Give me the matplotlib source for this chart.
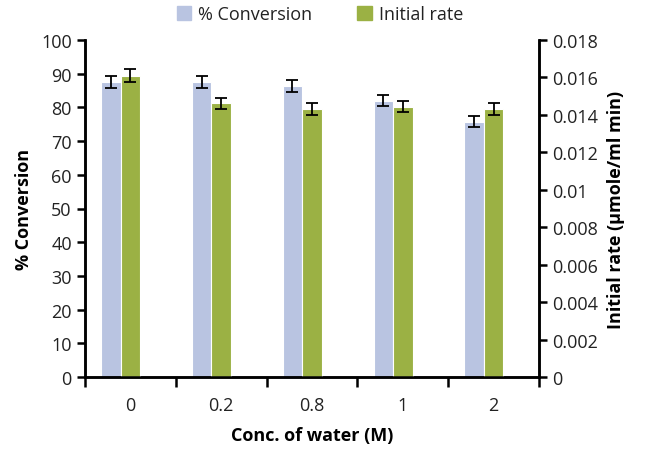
import matplotlib.pyplot as plt
import matplotlib.patches as mpatches
import numpy as np

plt.rcParams['font.family'] = ['Open Sans', 'DejaVu Sans']

categories = ["0", "0.2", "0.8", "1", "2"]
conversion = [87.6, 87.6, 86.3, 82.0, 75.8]
conversion_err = [1.8, 1.8, 1.8, 1.7, 1.5]
rate = [0.0161, 0.01462, 0.01431, 0.01444, 0.01431]
rate_err = [0.00033, 0.0003, 0.0003, 0.0003, 0.0003]

CONV_COLOR = "#B9C4E1"
RATE_COLOR = "#9BB144"
FS = 13

fig = plt.figure(figsize=(6.48, 4.52), dpi=100)
ax = fig.add_axes([85 / 648, 1 - 378 / 452, (539 - 85) / 648, (378 - 41) / 452])
ax2 = ax.twinx()

x = np.arange(len(categories))
w = 0.215
err_kw = dict(ecolor="black", capsize=4, elinewidth=1.3, capthick=1.3)

ax.bar(x - w * 1.0, conversion, width=w, color=CONV_COLOR, edgecolor="white",
       linewidth=0.8, yerr=conversion_err, error_kw=err_kw, zorder=2)
ax2.bar(x, rate, width=w, color=RATE_COLOR, edgecolor="white",
        linewidth=0.8, yerr=rate_err, error_kw=err_kw, zorder=2)

ax.set_xlim(-0.5, len(categories) - 0.5)
ax.set_ylim(0, 100)
ax.set_yticks(np.arange(0, 101, 10))
ax2.set_ylim(0, 0.018)
ax2.set_yticks(np.arange(0, 0.0181, 0.002))
ax2.set_yticklabels(["0", "0.002", "0.004", "0.006", "0.008", "0.01",
                     "0.012", "0.014", "0.016", "0.018"])

# category boundary ticks with labels in between
ax.set_xticks(np.arange(-0.5, len(categories), 1.0))
ax.set_xticklabels([])
ax.set_xticks(x, minor=True)
ax.set_xticklabels(categories, minor=True)
ax.tick_params(axis="x", which="major", length=7, width=1.8, direction="out")
ax.tick_params(axis="x", which="minor", length=0, pad=14, labelsize=FS, colors="#222222")
ax.tick_params(axis="y", length=6, width=1.8, labelsize=FS, labelcolor="#222222")
ax2.tick_params(axis="y", length=6, width=1.8, labelsize=FS, labelcolor="#222222")

for a in (ax, ax2):
    a.spines["top"].set_visible(False)
    for s in ("left", "right", "bottom"):
        a.spines[s].set_linewidth(1.8)

ax.set_ylabel("% Conversion", fontsize=FS, fontweight="bold", labelpad=6)
ax2.set_ylabel("Initial rate (µmole/ml min)", fontsize=FS, fontweight="bold", labelpad=6)
ax.set_xlabel("Conc. of water (M)", fontsize=FS, fontweight="bold", labelpad=8)

handles = [mpatches.Patch(color=CONV_COLOR, label="% Conversion"),
           mpatches.Patch(color=RATE_COLOR, label="Initial rate")]
fig.legend(handles=handles, loc="center", bbox_to_anchor=(320 / 648, 1 - 15 / 452),
           ncol=2, frameon=False, fontsize=FS, handlelength=0.8, handleheight=0.8,
           columnspacing=2.5, handletextpad=0.4, labelcolor="#222222")

fig.savefig("out.png", dpi=100)
